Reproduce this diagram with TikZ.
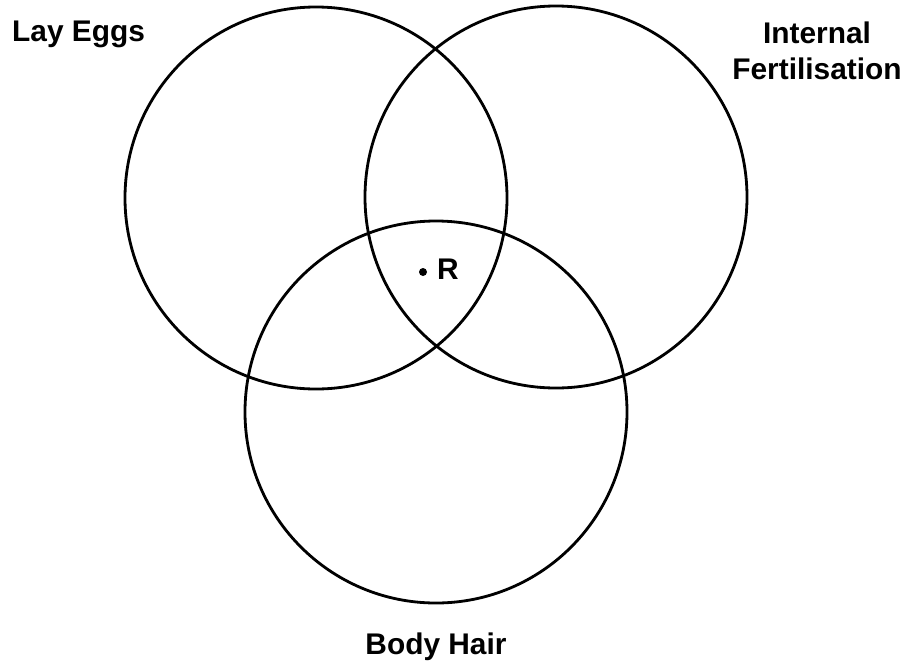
\documentclass[tikz,border=0pt]{standalone}
\usepackage{fontspec}
\setmainfont{Liberation Sans}
\usepackage{tikz}
\usetikzlibrary{positioning}
\tikzset{
  setcirc/.style={circle, draw=black, line width=2.4pt,
    minimum size=11.46cm, inner sep=0pt},
  setlabel/.style={font=\fontsize{25.5}{30.5}\selectfont\bfseries,
    inner sep=0pt, align=center},
  pointdot/.style={circle, fill=black, inner sep=0pt, minimum size=0.24cm}
}

\begin{document}
\begin{tikzpicture}[x=0.03cm, y=-0.03cm]
  \useasboundingbox (0,0) rectangle (903,667);

  % the three sets
  \node[setcirc] (eggs) at (316,198) {};
  \node[setcirc] (fert) at (556,197) {};
  \node[setcirc] (hair) at (436,412) {};

  % set names
  \node[setlabel, anchor=base west] (eggslbl) at (12,41) {Lay Eggs};
  \node[setlabel, anchor=north] (fertlbl) at (817,22) {Internal\\Fertilisation};
  \node[setlabel, anchor=base] (hairlbl) at (436,654) {Body Hair};

  % the point R
  \node[pointdot] (rdot) at (423,272) {};
  \node[setlabel, anchor=base west] (rlbl) at (437,279) {R};
\end{tikzpicture}
\end{document}
